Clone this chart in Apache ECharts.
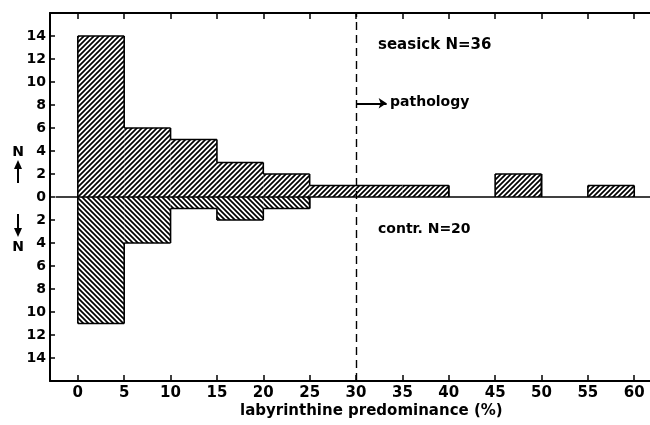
<!DOCTYPE html>
<html>
<head>
<meta charset="utf-8">
<script src="https://cdn.jsdelivr.net/npm/echarts@6/dist/echarts.min.js"></script>
<style>
  html, body { margin: 0; padding: 0; background: #fff; }
  #chart { width: 650px; height: 425px; }
</style>
</head>
<body>
<div id="chart"></div>
<script>
// Histogram bins (labyrinthine predominance, %), 5 % wide
const binStarts = [0, 5, 10, 15, 20, 25, 30, 35, 40, 45, 50, 55];
const binWidth = 5;
// Counts per bin: seasick group drawn upward, controls drawn downward
const seasick = [14, 6, 5, 3, 2, 1, 1, 1, 0, 2, 0, 1];
const control = [11, 4, 1, 2, 1, 0, 0, 0, 0, 0, 0, 0];
// Tick labels
const xTicks = [0, 5, 10, 15, 20, 25, 30, 35, 40, 45, 50, 55, 60];
const yTicks = [-14, -12, -10, -8, -6, -4, -2, 0, 2, 4, 6, 8, 10, 12, 14];
const pathologyLimit = 30;
const arrowLevel = 8.15;
const arrowEnd = 33.3;

const FONT = '"DejaVu Sans", sans-serif';

// Diagonal hatch tile: dir > 0 gives '/', dir < 0 gives '\'
function hatch(dir) {
  const s = 5;
  const c = document.createElement('canvas');
  c.width = s; c.height = s;
  const g = c.getContext('2d');
  g.fillStyle = '#fff';
  g.fillRect(0, 0, s, s);
  g.strokeStyle = '#000';
  g.lineWidth = 1.7;
  g.beginPath();
  if (dir > 0) {
    g.moveTo(-1, s + 1); g.lineTo(s + 1, -1);
    g.moveTo(-1, 1); g.lineTo(1, -1);
    g.moveTo(s - 1, s + 1); g.lineTo(s + 1, s - 1);
  } else {
    g.moveTo(-1, -1); g.lineTo(s + 1, s + 1);
    g.moveTo(s - 1, -1); g.lineTo(s + 1, 1);
    g.moveTo(-1, s - 1); g.lineTo(1, s + 1);
  }
  g.stroke();
  return { image: c, repeat: 'repeat' };
}

// Each row: [binStart, count, previous bin's count, next bin's count]
function histData(counts) {
  return binStarts.map((b, i) => [
    b,
    counts[i],
    i > 0 ? counts[i - 1] : 0,
    i < counts.length - 1 ? counts[i + 1] : 0
  ]);
}

// Filled bin plus a step outline (no dividers between merged bins)
function histRenderer(sign, fill) {
  return function (params, api) {
    const x0 = api.value(0);
    const h = api.value(1);
    const prev = api.value(2);
    const next = api.value(3);
    const x1 = x0 + binWidth;
    const children = [];
    const lineStyle = { stroke: '#000', lineWidth: 1.6, fill: null };
    if (h) {
      const p0 = api.coord([x0, 0]);
      const p1 = api.coord([x1, sign * h]);
      children.push({
        type: 'rect',
        shape: {
          x: p0[0], y: Math.min(p0[1], p1[1]),
          width: p1[0] - p0[0], height: Math.abs(p1[1] - p0[1])
        },
        style: { fill: fill }
      });
      const a = api.coord([x0, sign * h]);
      const b = api.coord([x1, sign * h]);
      children.push({ type: 'line', shape: { x1: a[0], y1: a[1], x2: b[0], y2: b[1] }, style: lineStyle });
      if (!next) {
        const c = api.coord([x1, 0]);
        children.push({ type: 'line', shape: { x1: b[0], y1: b[1], x2: c[0], y2: c[1] }, style: lineStyle });
      }
    }
    if (h !== prev && (h || prev)) {
      const a = api.coord([x0, sign * prev]);
      const b = api.coord([x0, sign * h]);
      children.push({ type: 'line', shape: { x1: a[0], y1: a[1], x2: b[0], y2: b[1] }, style: lineStyle });
    }
    return { type: 'group', children: children };
  };
}

const chart = echarts.init(document.getElementById('chart'), null, { renderer: 'canvas' });

const axisLine = { show: true, onZero: false, lineStyle: { color: '#000', width: 2 } };
const tickStyle = { color: '#000', width: 1.5 };

chart.setOption({
  animation: false,
  backgroundColor: '#fff',
  grid: { left: 50, right: 0, top: 13, bottom: 44, containLabel: false },
  xAxis: [
    {
      type: 'value', position: 'bottom', min: -3, max: 61.7,
      axisLine: axisLine,
      axisTick: { show: true, inside: true, length: 6, customValues: xTicks, lineStyle: tickStyle },
      axisLabel: {
        customValues: xTicks, color: '#000', fontFamily: FONT, fontSize: 15,
        fontWeight: 'bold', margin: 5
      },
      splitLine: { show: false }
    },
    {
      type: 'value', position: 'top', min: -3, max: 61.7,
      axisLine: axisLine,
      axisTick: { show: true, inside: true, length: 6, customValues: xTicks, lineStyle: tickStyle },
      axisLabel: { show: false },
      splitLine: { show: false }
    }
  ],
  yAxis: {
    type: 'value', min: -16, max: 16, interval: 2,
    axisLine: axisLine,
    axisTick: { show: true, inside: true, length: 5, customValues: yTicks, lineStyle: tickStyle },
    axisLabel: {
      customValues: yTicks, color: '#000', fontFamily: FONT, fontSize: 14,
      fontWeight: 'bold', margin: 4,
      formatter: function (v) { return String(Math.abs(v)); }
    },
    splitLine: { show: false }
  },
  series: [
    {
      type: 'custom', name: 'seasick',
      renderItem: histRenderer(1, hatch(1)),
      data: histData(seasick),
      z: 3
    },
    {
      type: 'custom', name: 'contr.',
      renderItem: histRenderer(-1, hatch(-1)),
      data: histData(control),
      z: 3,
      markLine: {
        silent: true,
        symbol: 'none',
        label: { show: false },
        z: 5,
        data: [
          [
            { coord: [-2.4, 0], lineStyle: { color: '#000', width: 1.6, type: 'solid' } },
            { coord: [61.7, 0] }
          ],
          { xAxis: pathologyLimit, lineStyle: { color: '#000', width: 1.4, type: [8, 5] } },
          [
            { coord: [pathologyLimit, arrowLevel], symbol: 'none',
              lineStyle: { color: '#000', width: 2, type: 'solid' } },
            { coord: [arrowEnd, arrowLevel], symbol: 'arrow', symbolSize: 8 }
          ]
        ]
      }
    }
  ],
  graphic: [
    { type: 'text', left: 378, top: 38,
      style: { text: 'seasick N=36', fill: '#000', font: 'bold 15px ' + FONT } },
    { type: 'text', left: 390, top: 95,
      style: { text: 'pathology', fill: '#000', font: 'bold 14px ' + FONT } },
    { type: 'text', left: 378, top: 222,
      style: { text: 'contr. N=20', fill: '#000', font: 'bold 14px ' + FONT } },
    { type: 'text', left: 240, top: 404,
      style: { text: 'labyrinthine predominance (%)', fill: '#000', font: 'bold 15px ' + FONT } },
    // "N" with upward arrow
    { type: 'text', x: 18, y: 152,
      style: { text: 'N', fill: '#000', font: 'bold 14px ' + FONT, align: 'center', verticalAlign: 'middle' } },
    { type: 'line', shape: { x1: 18, y1: 183, x2: 18, y2: 166 }, style: { stroke: '#000', lineWidth: 2 } },
    { type: 'polygon', shape: { points: [[18, 160], [14, 169], [22, 169]] }, style: { fill: '#000' } },
    // downward arrow with "N"
    { type: 'line', shape: { x1: 18, y1: 214, x2: 18, y2: 231 }, style: { stroke: '#000', lineWidth: 2 } },
    { type: 'polygon', shape: { points: [[18, 237], [14, 228], [22, 228]] }, style: { fill: '#000' } },
    { type: 'text', x: 18, y: 247,
      style: { text: 'N', fill: '#000', font: 'bold 14px ' + FONT, align: 'center', verticalAlign: 'middle' } }
  ]
});
</script>
</body>
</html>
